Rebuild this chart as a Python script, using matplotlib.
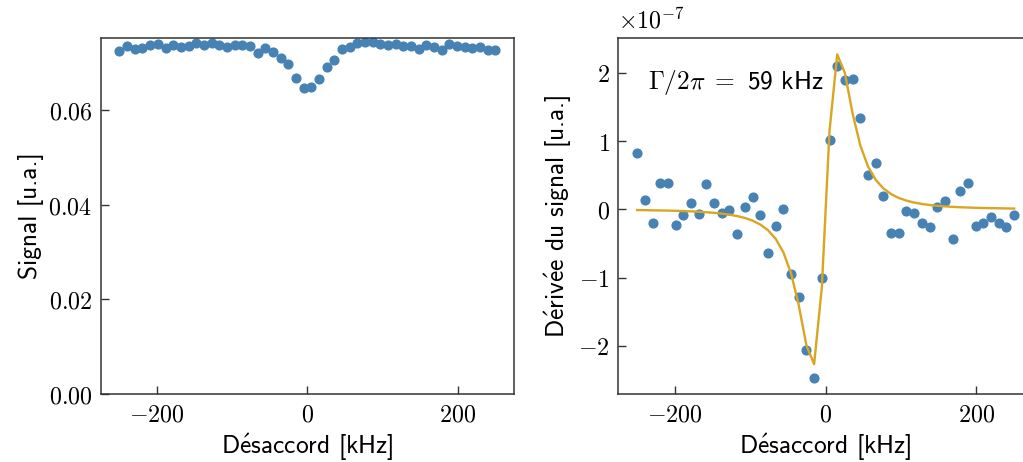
import numpy as np
import matplotlib
matplotlib.use('Agg')
import matplotlib.pyplot as plt
from matplotlib.ticker import FuncFormatter

# detuning grid (kHz)
detuning = np.linspace(-250, 250, 50)

# raw signal (u.a.)
signal = [0.07250, 0.07350, 0.07280, 0.07300, 0.07371, 0.07392, 0.07300, 0.07371, 0.07335, 0.07350,
          0.07420, 0.07371, 0.07406, 0.07371, 0.07322, 0.07377, 0.07371, 0.07356, 0.07208, 0.07300,
          0.07223, 0.07103, 0.06969, 0.06680, 0.06456, 0.06477, 0.06653, 0.06913, 0.07054, 0.07286,
          0.07335, 0.07406, 0.07441, 0.07427, 0.07385, 0.07371, 0.07392, 0.07356, 0.07356, 0.07286,
          0.07371, 0.07322, 0.07265, 0.07392, 0.07350, 0.07335, 0.07300, 0.07322, 0.07265, 0.07265]

# derivative of the signal (x1e-7)
deriv = [0.82, 0.14, -0.20, 0.39, 0.39, -0.23, -0.09, 0.09, -0.07, 0.37,
         0.09, -0.06, -0.01, -0.36, 0.04, 0.18, -0.09, -0.64, -0.24, 0.00,
         -0.95, -1.28, -2.06, -2.47, -1.01, 1.01, 2.10, 1.89, 1.91, 1.34,
         0.50, 0.68, 0.20, -0.35, -0.35, -0.02, -0.05, -0.20, -0.26, 0.03,
         0.12, -0.44, 0.27, 0.38, -0.25, -0.20, -0.11, -0.20, -0.26, -0.09]

# fitted lorentzian derivative, read at the same detunings (x1e-7)
fit_pos = [1.149, 2.270, 1.996, 1.404, 0.937, 0.629, 0.432, 0.306, 0.223, 0.166,
           0.127, 0.099, 0.079, 0.063, 0.052, 0.043, 0.036, 0.030, 0.026, 0.022,
           0.019, 0.017, 0.015, 0.013, 0.011]
fit = [-v for v in fit_pos[::-1]] + fit_pos

plt.rcParams['mathtext.fontset'] = 'cm'
plt.rcParams['font.size'] = 17.3

blue = '#4682B4'
gold = '#DAA520'
label_size = 18.3
sans = ['cmss10', 'DejaVu Sans']
e_acute = r'$\acute{\mathsf{e}}$'


def style_axes(ax):
    ax.tick_params(direction='in', length=6, width=1, top=False, right=False, colors='#333333',
                   labelcolor='black', pad=6)
    for s in ax.spines.values():
        s.set_color('#333333')
        s.set_linewidth(1.1)


def main():
    fig = plt.figure(figsize=(10.23, 4.62), dpi=100)
    ax1 = fig.add_axes([0.0984, 0.1472, 0.4043, 0.770])
    ax2 = fig.add_axes([0.6044, 0.1472, 0.4054, 0.770])

    # left: signal
    ax1.plot(detuning, signal, 'o', color=blue, ms=6.3)
    ax1.set_ylim(0, 0.0751)
    ax1.set_xticks([-200, 0, 200])
    ax1.set_yticks([0, 0.02, 0.04, 0.06])
    ax1.xaxis.set_major_formatter(FuncFormatter(lambda v, p: r'$%g$' % v))
    ax1.yaxis.set_major_formatter(FuncFormatter(lambda v, p: r'$%.2f$' % v))
    ax1.set_xlabel('D' + e_acute + 'saccord [kHz]', fontsize=label_size, family=sans)
    ax1.set_ylabel('Signal [u.a.]', fontsize=label_size, family=sans, labelpad=3)
    style_axes(ax1)

    # right: derivative + fit
    ax2.plot(detuning, np.array(deriv) * 1e-7, 'o', color=blue, ms=6.3)
    ax2.plot(detuning, np.array(fit) * 1e-7, '-', color=gold, lw=1.7)
    ax2.set_xticks([-200, 0, 200])
    ax2.set_yticks(np.array([-2, -1, 0, 1, 2]) * 1e-7)
    ax2.xaxis.set_major_formatter(FuncFormatter(lambda v, p: r'$%g$' % v))
    ax2.yaxis.set_major_formatter(FuncFormatter(lambda v, p: r'$%g$' % round(v * 1e7, 3)))
    ax2.text(0.0, 1.015, r'$\times10^{-7}$', transform=ax2.transAxes, ha='left', va='bottom')
    ax2.set_xlabel('D' + e_acute + 'saccord [kHz]', fontsize=label_size, family=sans)
    ax2.set_ylabel('D' + e_acute + 'riv' + e_acute + 'e du signal [u.a.]', fontsize=label_size,
                   family=sans, labelpad=3)
    ax2.text(0.072, 0.875, r'$\Gamma/2\pi\;=$ 59 kHz', transform=ax2.transAxes,
             va='center', ha='left', fontsize=label_size, family=sans)
    style_axes(ax2)

    fig.savefig('out.png', dpi=100)


if __name__ == '__main__':
    main()
